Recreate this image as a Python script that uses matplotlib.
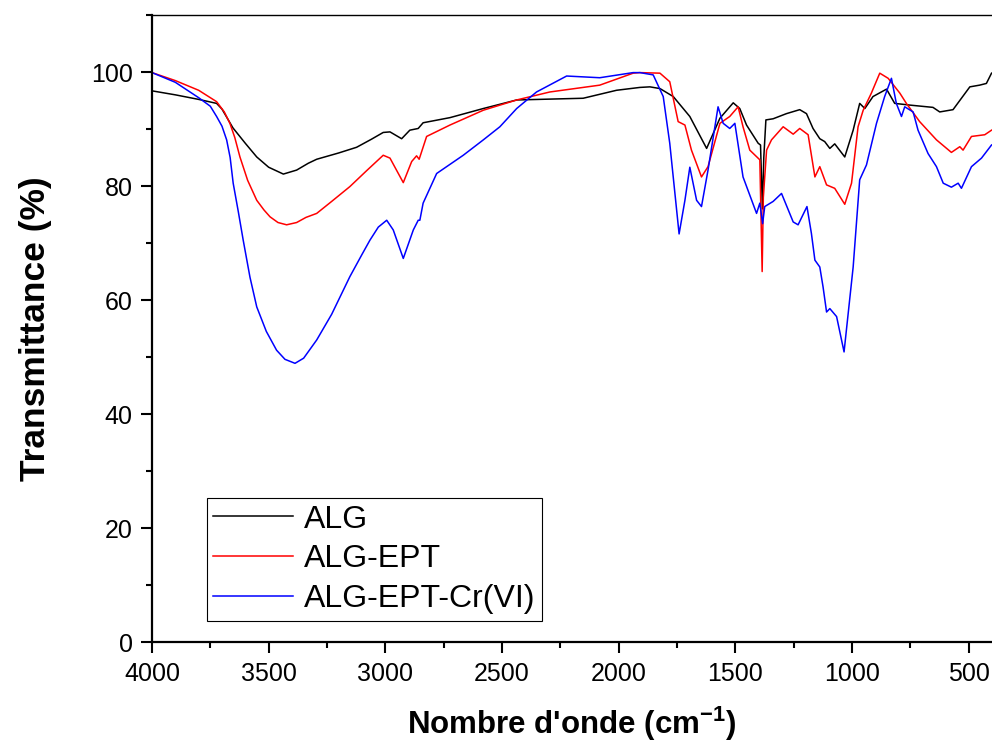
import matplotlib
matplotlib.use('Agg')
import matplotlib.pyplot as plt
from matplotlib.ticker import MultipleLocator

plt.rcParams['font.family'] = ['Liberation Sans', 'DejaVu Sans']
plt.rcParams['mathtext.default'] = 'regular'

# ALG
wn_alg = [4000, 3900, 3800, 3723, 3700, 3653, 3600, 3551, 3500, 3437, 3380, 3330, 3294,
          3200, 3123, 3060, 3009, 2980, 2930, 2895, 2859, 2838,
          2723, 2580, 2437, 2152, 2009, 1909, 1866, 1823, 1766, 1695, 1623, 1566, 1509,
          1481, 1452, 1402, 1392, 1384, 1378, 1369, 1338, 1281, 1224, 1195, 1167, 1138,
          1117, 1095, 1074, 1031, 995, 967, 945, 910, 852, 817, 752, 653, 624, 567, 495,
          453, 424, 402]
t_alg = [96.7, 96.0, 95.2, 94.5, 93.5, 90.2, 87.5, 85.1, 83.3, 82.1, 82.8, 84.0, 84.7,
         85.8, 86.8, 88.2, 89.4, 89.5, 88.3, 89.8, 90.1, 91.1,
         92.0, 93.6, 95.1, 95.4, 96.8, 97.3, 97.4, 97.1, 95.7, 92.2, 86.6, 91.9, 94.6,
         93.6, 90.7, 87.5, 87.2, 76.0, 85.0, 91.6, 91.8, 92.7, 93.4, 92.7, 90.1, 88.3,
         87.8, 86.6, 87.4, 85.1, 89.8, 94.5, 93.6, 95.7, 97.0, 94.5, 94.2, 93.8, 93.0,
         93.4, 97.4, 97.7, 98.0, 99.8]

# ALG-EPT
wn_ept = [4000, 3900, 3800, 3723, 3690, 3666, 3645, 3623, 3590, 3551, 3520, 3494, 3460,
          3423, 3380, 3340, 3294, 3230, 3152, 3080, 3009, 2980, 2923, 2887,
          2866, 2855, 2823, 2723, 2580, 2437, 2295, 2081, 1938, 1909, 1823, 1781, 1745,
          1716, 1688, 1645, 1617, 1566, 1524, 1488, 1467, 1438, 1395, 1385, 1380, 1366,
          1345, 1295, 1252, 1224, 1188, 1159, 1138, 1109, 1074, 1031, 1002, 974, 952,
          917, 881, 845, 795, 767, 710, 638, 574, 538, 524, 488, 431, 402]
t_ept = [99.9, 98.5, 96.8, 94.8, 93.0, 91.0, 88.5, 85.1, 81.0, 77.5, 75.8, 74.6, 73.6,
         73.2, 73.6, 74.5, 75.2, 77.3, 79.9, 82.7, 85.4, 84.9, 80.6, 84.3,
         85.3, 84.7, 88.7, 90.7, 93.3, 95.1, 96.5, 97.7, 99.8, 99.9, 99.8, 98.3, 91.3,
         90.7, 86.3, 81.6, 83.4, 91.0, 92.2, 93.9, 90.4, 86.3, 84.6, 65.0, 78.0, 86.3,
         88.1, 90.4, 89.1, 90.1, 89.0, 81.6, 83.4, 80.2, 79.6, 76.8, 80.5, 90.4, 93.3,
         96.3, 99.8, 98.9, 96.3, 94.5, 91.3, 88.1, 85.9, 86.9, 86.3, 88.7, 89.0, 89.8]

# ALG-EPT-Cr(VI)
wn_cr = [4000, 3900, 3800, 3750, 3723, 3700, 3680, 3665, 3652, 3630, 3609, 3580, 3551,
         3510, 3466, 3430, 3387, 3350, 3294, 3230, 3152, 3100, 3066, 3030, 2994,
         2966, 2923, 2880, 2859, 2852, 2838, 2780, 2666, 2580, 2509, 2437, 2352, 2223,
         2081, 1938, 1909, 1852, 1809, 1781, 1741, 1716, 1695, 1666, 1645, 1617, 1574,
         1552, 1524, 1502, 1467, 1409, 1395, 1383, 1374, 1338, 1302, 1252, 1231, 1193,
         1174, 1159, 1138, 1124, 1109, 1095, 1066, 1034, 995, 967, 938, 895, 860, 831,
         810, 788, 774, 738, 717, 674, 638, 609, 574, 545, 531, 488, 445, 402]
t_cr = [99.9, 98.2, 95.5, 94.0, 92.2, 90.5, 88.1, 85.0, 80.5, 75.5, 70.5, 64.0, 58.8,
        54.5, 51.2, 49.6, 48.9, 49.8, 53.0, 57.5, 64.1, 68.0, 70.5, 72.8, 74.0,
        72.3, 67.3, 72.3, 74.0, 74.0, 77.0, 82.2, 85.4, 88.1, 90.4, 93.6, 96.5, 99.3,
        99.0, 99.9, 99.9, 99.5, 95.7, 87.5, 71.6, 77.5, 83.3, 77.5, 76.4, 82.8, 93.9,
        91.0, 90.1, 91.0, 81.6, 75.2, 77.0, 73.4, 76.4, 77.3, 78.7, 73.7, 73.2, 76.4,
        71.7, 67.0, 65.8, 62.3, 57.9, 58.5, 57.1, 50.9, 65.8, 81.1, 83.7, 91.0, 95.7,
        98.9, 94.5, 92.2, 93.9, 93.0, 89.8, 85.7, 83.4, 80.5, 79.8, 80.5, 79.6, 83.4,
        84.9, 87.2]

fig = plt.figure(figsize=(9.92, 7.44), dpi=100)
ax = fig.add_axes([0.1532, 0.137, 0.8468, 0.8428])

ax.plot(wn_alg, t_alg, color='black', lw=1.1, label='ALG')
ax.plot(wn_ept, t_ept, color='red', lw=1.1, label='ALG-EPT')
ax.plot(wn_cr, t_cr, color='blue', lw=1.1, label='ALG-EPT-Cr(VI)')

ax.set_xlim(4000, 400)
ax.set_ylim(0, 110)
ax.xaxis.set_major_locator(MultipleLocator(500))
ax.xaxis.set_minor_locator(MultipleLocator(250))
ax.yaxis.set_major_locator(MultipleLocator(20))
ax.yaxis.set_minor_locator(MultipleLocator(10))
ax.tick_params(which='major', direction='out', length=8, width=1.5, labelsize=18, pad=6)
ax.tick_params(which='minor', direction='out', length=4.5, width=1.5)
ax.tick_params(top=False, right=False)

ax.spines['left'].set_linewidth(1.6)
ax.spines['bottom'].set_linewidth(1.6)
ax.spines['top'].set_linewidth(1.0)
ax.spines['right'].set_visible(False)

ax.set_xlabel("Nombre d'onde (cm$^{-1}$)", fontsize=22.5, fontweight='bold', labelpad=14)
ax.set_ylabel('Transmittance (%)', fontsize=25.5, fontweight='bold', labelpad=28)

leg = ax.legend(loc='lower left', bbox_to_anchor=(0.065, 0.034), borderaxespad=0,
                fontsize=23, handlelength=2.5, handletextpad=0.35, labelspacing=0.31,
                fancybox=False, framealpha=1, edgecolor='black', borderpad=0.2)
leg.get_frame().set_linewidth(0.8)

fig.savefig('out.png', dpi=100)
